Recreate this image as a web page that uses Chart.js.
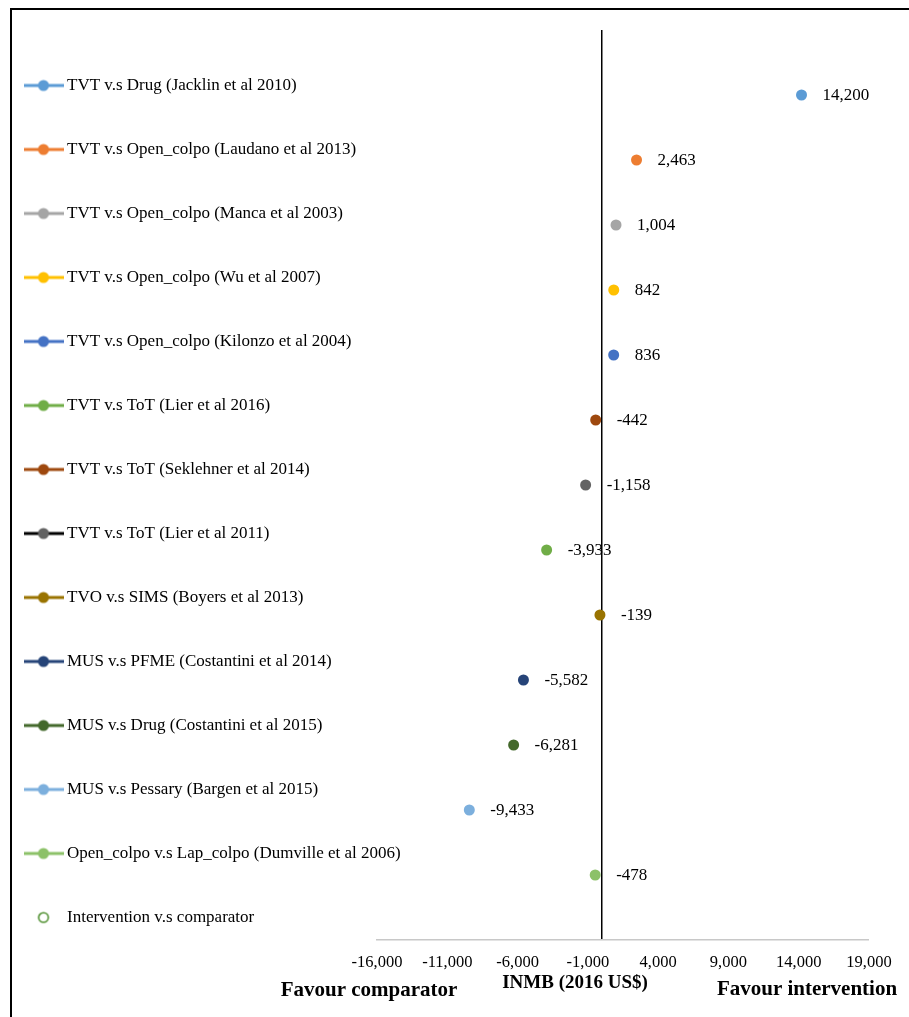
<!DOCTYPE html>
<html>
<head>
<meta charset="utf-8">
<script src="https://cdn.jsdelivr.net/npm/chart.js@4"></script>
<style>
  html, body { margin: 0; padding: 0; background: #fff; }
  canvas { display: block; }
</style>
</head>
<body>
<canvas id="inmbChart" width="909" height="1017"></canvas>
<script>
const studies = [
  'TVT v.s Drug (Jacklin et al 2010)',
  'TVT v.s Open_colpo (Laudano et al 2013)',
  'TVT v.s Open_colpo (Manca et al 2003)',
  'TVT v.s Open_colpo (Wu et al 2007)',
  'TVT v.s Open_colpo (Kilonzo et al 2004)',
  'TVT v.s ToT (Lier et al 2016)',
  'TVT v.s ToT (Seklehner et al 2014)',
  'TVT v.s ToT (Lier et al 2011)',
  'TVO v.s SIMS (Boyers et al 2013)',
  'MUS v.s PFME (Costantini et al 2014)',
  'MUS v.s Drug (Costantini et al 2015)',
  'MUS v.s Pessary (Bargen et al 2015)',
  'Open_colpo v.s Lap_colpo (Dumville et al 2006)'
];
const inmb = [14200, 2463, 1004, 842, 836, -442, -1158, -3933, -139, -5582, -6281, -9433, -478];
const pointColors = ['#5B9BD5', '#ED7D31', '#A5A5A5', '#FFC000', '#4472C4', '#9E480E', '#636363',
  '#70AD47', '#997300', '#264478', '#43682B', '#7CAFDD', '#8CC168'];
const legendLineColors = ['#5B9BD5', '#ED7D31', '#A5A5A5', '#FFC000', '#4472C4', '#70AD47', '#9E480E',
  '#000000', '#997300', '#264478', '#43682B', '#7CAFDD', '#8CC168'];
const legendDotColors = ['#5B9BD5', '#ED7D31', '#A5A5A5', '#FFC000', '#4472C4', '#70AD47', '#9E480E',
  '#636363', '#997300', '#264478', '#43682B', '#7CAFDD', '#8CC168'];
const summaryLabel = 'Intervention v.s comparator';
const summaryColor = '#4E8F2E';
const xTickValues = [-16000, -11000, -6000, -1000, 4000, 9000, 14000, 19000];
const xTitle = 'INMB (2016 US$)';
const leftNote = 'Favour comparator';
const rightNote = 'Favour intervention';

const serif = "'Liberation Serif', 'Times New Roman', serif";

function legendIcon(line, dot, open) {
  const c = document.createElement('canvas');
  c.width = 40;
  c.height = 14;
  const g = c.getContext('2d');
  if (line) {
    g.strokeStyle = line;
    g.lineWidth = 3;
    g.beginPath();
    g.moveTo(0, 7);
    g.lineTo(40, 7);
    g.stroke();
  }
  g.beginPath();
  if (open) {
    g.arc(20, 7, 4.8, 0, Math.PI * 2);
    g.strokeStyle = dot;
    g.lineWidth = 1.6;
    g.stroke();
  } else {
    g.arc(20, 7, 5.5, 0, Math.PI * 2);
    g.fillStyle = dot;
    g.fill();
  }
  return c;
}

const datasets = studies.map((name, i) => ({
  label: name,
  data: [{ x: inmb[i], y: studies.length - i }],
  backgroundColor: pointColors[i],
  borderColor: pointColors[i],
  borderWidth: 0,
  pointRadius: 5.5,
  legendIcon: legendIcon(legendLineColors[i], legendDotColors[i], false)
}));
datasets.push({
  label: summaryLabel,
  data: [],
  backgroundColor: 'transparent',
  borderColor: summaryColor,
  legendIcon: legendIcon(null, summaryColor, true)
});

const framePlugin = {
  id: 'frame',
  // legend text runs a bit past the plot's left edge, widen its clip box after layout
  afterLayout(chart) {
    if (chart.legend) {
      chart.legend.right += 60;
      chart.legend.width += 60;
    }
  },
  beforeDraw(chart) {
    const ctx = chart.ctx;
    ctx.save();
    ctx.fillStyle = '#fff';
    ctx.fillRect(0, 0, chart.width, chart.height);
    ctx.strokeStyle = '#000';
    ctx.lineWidth = 2;
    ctx.beginPath();
    ctx.moveTo(11, chart.height);
    ctx.lineTo(11, 9);
    ctx.lineTo(chart.width, 9);
    ctx.stroke();
    ctx.restore();
  }
};

const valueLabels = {
  id: 'valueLabels',
  afterDatasetsDraw(chart) {
    const ctx = chart.ctx;
    ctx.save();
    ctx.font = '17px ' + serif;
    ctx.fillStyle = '#000';
    ctx.textAlign = 'left';
    ctx.textBaseline = 'middle';
    chart.data.datasets.forEach((ds, i) => {
      chart.getDatasetMeta(i).data.forEach((pt, j) => {
        ctx.fillText(ds.data[j].x.toLocaleString('en-US'), pt.x + 21, pt.y + 1);
      });
    });
    ctx.restore();
  }
};

const axisNotes = {
  id: 'axisNotes',
  afterDraw(chart) {
    const ctx = chart.ctx;
    const area = chart.chartArea;
    ctx.save();
    ctx.fillStyle = '#000';
    ctx.textAlign = 'center';
    ctx.textBaseline = 'middle';
    ctx.font = 'bold 19px ' + serif;
    ctx.fillText(xTitle, 575, area.bottom + 43);
    ctx.font = 'bold 21px ' + serif;
    ctx.fillText(leftNote, 369, area.bottom + 51);
    ctx.fillText(rightNote, 807, area.bottom + 50);
    ctx.restore();
  }
};

new Chart(document.getElementById('inmbChart'), {
  type: 'scatter',
  data: { datasets: datasets },
  plugins: [framePlugin, valueLabels, axisNotes],
  options: {
    responsive: false,
    animation: false,
    events: [],
    layout: { padding: { left: -18.5, right: 40, top: 30, bottom: 0 } },
    plugins: {
      tooltip: { enabled: false },
      legend: {
        position: 'left',
        align: 'start',
        maxWidth: 395.5,
        labels: {
          usePointStyle: true,
          pointStyleWidth: 30,
          padding: 47,
          color: '#000',
          font: { family: serif, size: 17 },
          generateLabels(chart) {
            return chart.data.datasets.map((ds, i) => ({
              text: ds.label,
              pointStyle: ds.legendIcon,
              fillStyle: ds.backgroundColor,
              strokeStyle: ds.borderColor,
              lineWidth: 0,
              hidden: false,
              datasetIndex: i
            }));
          }
        }
      }
    },
    scales: {
      x: {
        type: 'linear',
        min: xTickValues[0],
        max: xTickValues[xTickValues.length - 1],
        afterBuildTicks(scale) {
          scale.ticks = xTickValues.concat([0]).sort((a, b) => a - b).map(v => ({ value: v }));
        },
        afterFit(scale) {
          scale.height = 77;
        },
        ticks: {
          autoSkip: false,
          maxRotation: 0,
          padding: 13,
          color: '#000',
          font: { family: serif, size: 16.5 },
          callback: v => (v === 0 ? '' : v.toLocaleString('en-US'))
        },
        grid: {
          drawTicks: false,
          color: c => (c.tick && c.tick.value === 0 ? '#000' : 'transparent'),
          lineWidth: c => (c.tick && c.tick.value === 0 ? 1.5 : 0)
        },
        border: { color: '#C8C8C8', width: 1.5 }
      },
      y: {
        display: false,
        min: 0,
        max: studies.length + 1
      }
    }
  }
});
</script>
</body>
</html>
